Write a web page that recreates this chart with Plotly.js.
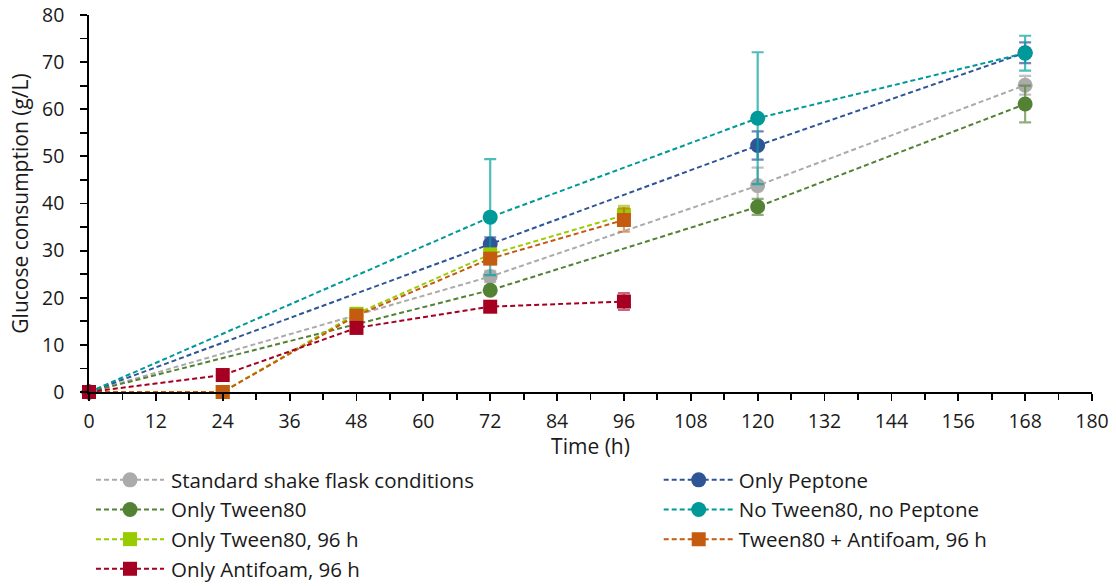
<!DOCTYPE html>
<html>
<head>
<meta charset="utf-8">
<script src="https://cdn.plot.ly/plotly-3.0.1.min.js"></script>
<style>
  html, body { margin: 0; padding: 0; background: #fff; }
  #chart { width: 1116px; height: 586px; }
</style>
</head>
<body>
<div id="chart"></div>
<script>
// Glucose consumption (g/L) over time (h) for each cultivation condition
const stdHours = [0, 72, 120, 168];
const stdValues = [0, 24.5, 43.8, 65.1];
const stdErr = [0, 1.2, 3.8, 2.0];

const peptoneHours = [0, 72, 120, 168];
const peptoneValues = [0, 31.4, 52.3, 72.0];
const peptoneErr = [0, 1.4, 3.0, 2.2];

const tweenHours = [0, 72, 120, 168];
const tweenValues = [0, 21.6, 39.3, 61.1];
const tweenErr = [0, 0.8, 1.7, 3.9];

const noneHours = [0, 72, 120, 168];
const noneValues = [0, 37.1, 58.1, 71.9];
const noneErr = [0, 12.3, 14.0, 3.7];

const tween96Hours = [0, 24, 48, 72, 96];
const tween96Values = [0, 0, 16.6, 29.2, 37.5];
const tween96Err = [0, 0, 0.5, 0.8, 2.0];

const tweenAfHours = [0, 24, 48, 72, 96];
const tweenAfValues = [0, 0, 16.2, 28.3, 36.5];
const tweenAfErr = [0, 0, 0.5, 0.8, 2.5];

const afHours = [0, 24, 48, 72, 96];
const afValues = [0, 3.6, 13.6, 18.1, 19.2];
const afErr = [0, 0.4, 0.5, 0.6, 1.8];

const xTicks = [0, 12, 24, 36, 48, 60, 72, 84, 96, 108, 120, 132, 144, 156, 168, 180];

const FONT = '"Open Sans", Lato, sans-serif';
const INK = '#1a1a1a';

function series(name, x, y, err, color, errColor, symbol, legendId, rank) {
  return {
    type: 'scatter',
    mode: 'lines+markers',
    name: name,
    x: x,
    y: y,
    legend: legendId,
    legendrank: rank,
    error_y: { type: 'data', array: err, visible: true, color: errColor, thickness: 2.2, width: 6 },
    line: { color: color, width: 2, dash: '5px,3px' },
    marker: { color: color, size: symbol === 'square' ? 14 : 15, symbol: symbol, line: { width: 0 } },
    cliponaxis: false
  };
}

const traces = [
  series('Standard shake flask conditions', stdHours, stdValues, stdErr, '#ABABAB', 'rgba(171,171,171,0.75)', 'circle', 'legend', 1),
  series('Only Peptone', peptoneHours, peptoneValues, peptoneErr, '#2F5597', 'rgba(47,85,151,0.7)', 'circle', 'legend2', 1),
  series('Only Tween80', tweenHours, tweenValues, tweenErr, '#548235', 'rgba(84,130,53,0.65)', 'circle', 'legend', 2),
  series('No Tween80, no Peptone', noneHours, noneValues, noneErr, '#00999A', 'rgba(0,160,160,0.7)', 'circle', 'legend2', 2),
  series('Only Tween80, 96 h', tween96Hours, tween96Values, tween96Err, '#99CC00', 'rgba(153,204,0,0.7)', 'square', 'legend', 3),
  series('Tween80 + Antifoam, 96 h', tweenAfHours, tweenAfValues, tweenAfErr, '#C55A11', 'rgba(197,90,17,0.6)', 'square', 'legend2', 3),
  series('Only Antifoam, 96 h', afHours, afValues, afErr, '#A50021', 'rgba(165,0,33,0.6)', 'square', 'legend', 4)
];

function legendBox(x) {
  return {
    orientation: 'v',
    x: x,
    xanchor: 'left',
    xref: 'paper',
    y: 1 - 460 / 586,
    yref: 'container',
    yanchor: 'top',
    itemwidth: 70,
    font: { family: FONT, size: 20.5, color: INK },
    bgcolor: 'rgba(0,0,0,0)',
    traceorder: 'normal'
  };
}

const axisLine = { ticks: 'outside', ticklen: 7, tickwidth: 1.8, tickcolor: '#000', showline: true, linecolor: '#000', linewidth: 1.8, showgrid: false, zeroline: false };

const layout = {
  width: 1116,
  height: 586,
  margin: { l: 89, r: 24, t: 15, b: 194, autoexpand: false },
  paper_bgcolor: '#ffffff',
  plot_bgcolor: '#ffffff',
  font: { family: FONT, size: 20, color: INK },
  showlegend: true,
  xaxis: Object.assign({}, axisLine, {
    range: [0, 180],
    tickmode: 'array',
    tickvals: xTicks,
    ticktext: xTicks.map(String),
    ticklabelstandoff: 4,
    tickfont: { family: FONT, size: 19.5, color: INK },
    minor: { dtick: 6, ticks: 'outside', ticklen: 6, tickwidth: 1.8, tickcolor: '#000', showgrid: false },
    title: { text: 'Time (h)', font: { family: FONT, size: 21, color: INK }, standoff: 3 }
  }),
  yaxis: Object.assign({}, axisLine, {
    range: [0, 80],
    dtick: 10,
    ticklabelstandoff: 12,
    tickfont: { family: FONT, size: 19.5, color: INK },
    minor: { dtick: 5, ticks: 'outside', ticklen: 7, tickwidth: 1.8, tickcolor: '#000', showgrid: false },
    title: { text: 'Glucose consumption (g/L)', font: { family: FONT, size: 21, color: INK }, standoff: 8 }
  }),
  legend: legendBox(0.002),
  legend2: legendBox(0.568)
};

Plotly.newPlot('chart', traces, layout, { displayModeBar: false, staticPlot: true }).then(function (gd) {
  // stretch the legend sample lines across the symbol area and centre the marker on them
  gd.querySelectorAll('.legend .traces').forEach(function (item) {
    item.querySelectorAll('.js-line').forEach(function (p) {
      p.setAttribute('d', 'M5,0h68');
    });
    item.querySelectorAll('path.scatterpts').forEach(function (p) {
      p.setAttribute('transform', 'translate(39,0)');
    });
  });
});
</script>
</body>
</html>
